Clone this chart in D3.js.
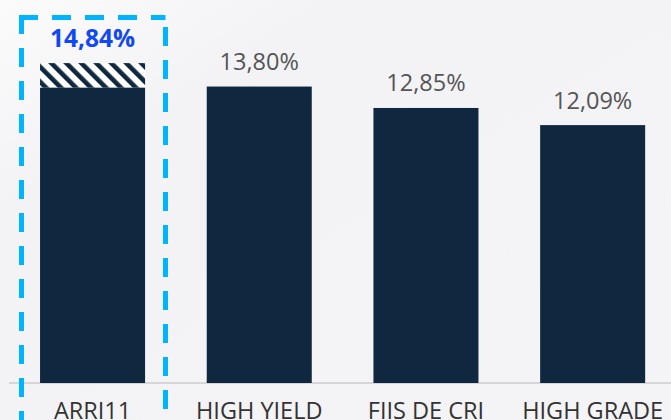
<!DOCTYPE html>
<html>
<head>
<meta charset="utf-8">
<script src="https://cdn.jsdelivr.net/npm/d3@7"></script>
<style>
  body { margin: 0; background: #f4f4f6; }
  svg { display: block; }
</style>
</head>
<body>
<div id="chart"></div>
<script>
// Data
const categories = ['ARRI11', 'HIGH YIELD', 'FIIS DE CRI', 'HIGH GRADE'];
const values = [14.84, 13.80, 12.85, 12.09];
const solidValues = [13.75, 13.80, 12.85, 12.09];
const valueLabels = ['14,84%', '13,80%', '12,85%', '12,09%'];
const highlight = 'ARRI11';

const dimensions = {
    width: 671,
    height: 420,
    baseline: 383
}

const svg = d3.select('#chart')
    .append('svg')
    .attr('width', dimensions.width)
    .attr('height', dimensions.height)

const defs = svg.append('defs')

// background sheen
const grad = defs.append('linearGradient')
    .attr('id', 'bg')
    .attr('x1', '0').attr('y1', '0').attr('x2', '1').attr('y2', '1')
grad.append('stop').attr('offset', '0').attr('stop-color', '#fbfbfc')
grad.append('stop').attr('offset', '0.25').attr('stop-color', '#f3f3f5')
grad.append('stop').attr('offset', '1').attr('stop-color', '#f4f4f6')

const pattern = defs.append('pattern')
    .attr('id', 'hatch')
    .attr('patternUnits', 'userSpaceOnUse')
    .attr('width', 10.6)
    .attr('height', 10)
    .attr('patternTransform', 'rotate(-45)')
pattern.append('rect').attr('width', 10.6).attr('height', 10).attr('fill', '#ffffff')
pattern.append('rect').attr('width', 4.6).attr('height', 10).attr('fill', '#10283f')

svg.append('rect')
    .attr('width', dimensions.width)
    .attr('height', dimensions.height)
    .attr('fill', 'url(#bg)')

// Scales
const xScale = d3.scaleBand()
    .domain(categories)
    .range([9.2, 676])
    .paddingInner(0.37)
    .paddingOuter(0.185)

const yScale = d3.scaleLinear()
    .domain([0.65, 15])
    .range([dimensions.baseline, 59.5])

// axis line
svg.append('line')
    .attr('x1', 9).attr('x2', dimensions.width)
    .attr('y1', dimensions.baseline).attr('y2', dimensions.baseline)
    .attr('stroke', '#d6d6d8')
    .attr('stroke-width', 2)

// hatched part (total)
svg.selectAll('rect.total')
    .data(categories.filter(c => c === highlight))
    .join('rect')
    .attr('class', 'total')
    .attr('x', d => xScale(d))
    .attr('width', xScale.bandwidth())
    .attr('y', d => yScale(values[categories.indexOf(d)]))
    .attr('height', d => yScale(solidValues[categories.indexOf(d)]) - yScale(values[categories.indexOf(d)]))
    .attr('fill', 'url(#hatch)')

// solid bars
svg.selectAll('rect.bar')
    .data(categories)
    .join('rect')
    .attr('class', 'bar')
    .attr('x', d => xScale(d))
    .attr('width', xScale.bandwidth())
    .attr('y', (d, i) => yScale(solidValues[i]))
    .attr('height', (d, i) => dimensions.baseline - yScale(solidValues[i]))
    .attr('fill', '#10283f')

// value labels
svg.selectAll('text.value')
    .data(categories)
    .join('text')
    .attr('class', 'value')
    .attr('x', d => xScale(d) + xScale.bandwidth() / 2)
    .attr('y', (d, i) => yScale(values[i]) - 16.5)
    .attr('text-anchor', 'middle')
    .attr('font-family', 'Open Sans, sans-serif')
    .attr('font-size', d => d === highlight ? 24.5 : 23.5)
    .attr('font-weight', d => d === highlight ? 700 : 400)
    .attr('fill', d => d === highlight ? '#1148f5' : '#555555')
    .text((d, i) => valueLabels[i])

// category labels
const xAxis = d3.axisBottom(xScale).tickSize(0).tickPadding(0)
const xAxisGroup = svg.append('g')
    .attr('transform', `translate(0, ${dimensions.baseline})`)
    .call(xAxis)
xAxisGroup.select('.domain').remove()
xAxisGroup.selectAll('text')
    .attr('dy', null)
    .attr('y', 36)
    .attr('font-family', 'Open Sans, sans-serif')
    .attr('font-size', 23.5)
    .attr('fill', '#333333')

// highlight box
const box = { left: 21.5, right: 165.5, top: 17.5 }
const dashed = svg.append('g')
    .attr('stroke', '#00b4ff')
    .attr('stroke-width', 5)
    .attr('stroke-dasharray', '19,14')
    .attr('fill', 'none')
dashed.append('line')
    .attr('x1', box.left - 2.5).attr('x2', box.right)
    .attr('y1', box.top).attr('y2', box.top)
dashed.append('line')
    .attr('x1', box.left).attr('x2', box.left)
    .attr('y1', box.top - 2.5).attr('y2', dimensions.height)
dashed.append('line')
    .attr('x1', box.right).attr('x2', box.right)
    .attr('y1', box.top + 9.5).attr('y2', dimensions.height)
</script>
</body>
</html>
